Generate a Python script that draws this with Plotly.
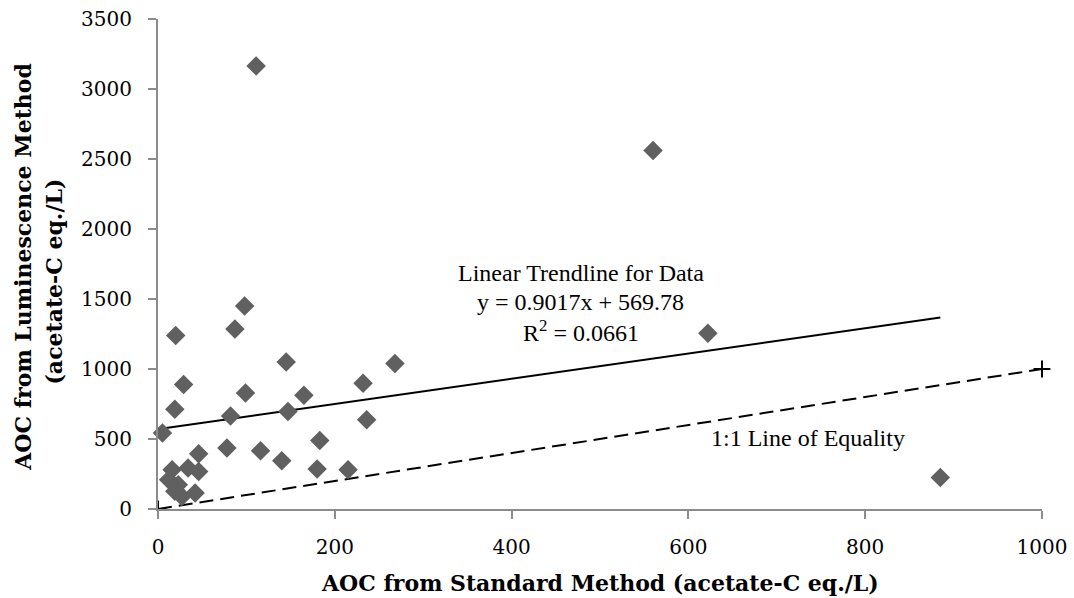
import plotly.graph_objects as go

# Data
standard_aoc = [111, 560, 622, 885, 98, 87, 20, 145, 268, 29, 232, 99, 165, 19, 82, 147,
                236, 5, 183, 78, 116, 46, 140, 180, 215, 16, 34, 46, 12, 23, 19, 42, 27]
luminescence_aoc = [3165, 2560, 1255, 225, 1450, 1285, 1240, 1050, 1040, 890, 898, 828, 812,
                    713, 665, 697, 637, 542, 490, 435, 416, 395, 345, 285, 280, 280, 292,
                    268, 209, 173, 126, 114, 90]

trend_slope = 0.9017
trend_intercept = 569.78
equality_x = [0, 1000]
equality_y = [0, 1000]

x_ticks = [0, 200, 400, 600, 800, 1000]
y_ticks = [0, 500, 1000, 1500, 2000, 2500, 3000, 3500]

FONT = "DejaVu Serif"
ANN_FONT = "Liberation Serif"
AXIS_GREY = "#8c8c8c"

trend_x = [min(standard_aoc), max(standard_aoc)]
trend_y = [trend_slope * v + trend_intercept for v in trend_x]

fig = go.Figure()
fig.add_trace(go.Scatter(
    x=equality_x, y=equality_y, mode="lines+markers",
    line=dict(color="black", width=2, dash="14px,7px"),
    marker=dict(symbol="cross-thin", size=12, line=dict(color="black", width=2)),
    showlegend=False, hoverinfo="skip", cliponaxis=False))
fig.add_trace(go.Scatter(
    x=trend_x, y=trend_y, mode="lines",
    line=dict(color="black", width=2),
    showlegend=False, hoverinfo="skip"))
fig.add_trace(go.Scatter(
    x=standard_aoc, y=luminescence_aoc, mode="markers",
    marker=dict(symbol="diamond", size=15, color="#606060", line=dict(width=0)),
    showlegend=False, cliponaxis=False))

ann_font = dict(family=ANN_FONT, size=24, color="black")
fig.add_annotation(x=478, y=1683, text="Linear Trendline for Data", showarrow=False, font=ann_font)
fig.add_annotation(x=478, y=1480, text="y = 0.9017x + 569.78", showarrow=False, font=ann_font)
fig.add_annotation(x=478, y=1275, text="R<sup>2</sup> = 0.0661", showarrow=False, font=ann_font)
fig.add_annotation(x=735, y=509, text="1:1 Line of Equality", showarrow=False, font=ann_font)

title_font = dict(family=FONT, size=22, color="black")
fig.add_annotation(xref="paper", yref="paper", x=-0.1527, y=0.4945, textangle=-90,
                   xanchor="center", yanchor="middle", showarrow=False,
                   text="<b>AOC from Luminescence Method</b>", font=title_font)
fig.add_annotation(xref="paper", yref="paper", x=-0.1176, y=0.4643, textangle=-90,
                   xanchor="center", yanchor="middle", showarrow=False,
                   text="<b>(acetate-C eq./L)</b>", font=title_font)
fig.add_annotation(xref="paper", yref="paper", x=0.5, y=-0.152,
                   xanchor="center", yanchor="middle", showarrow=False,
                   text="<b>AOC from Standard Method (acetate-C eq./L)</b>", font=title_font)

fig.update_layout(
    width=1074, height=598,
    margin=dict(l=158, r=32, t=19, b=89, autoexpand=False),
    paper_bgcolor="white", plot_bgcolor="white",
    font=dict(family=FONT, size=20, color="black"),
    xaxis=dict(
        range=[0, 1000], tickvals=x_ticks, ticktext=[str(v) for v in x_ticks],
        showgrid=False, zeroline=False, showline=True, linecolor=AXIS_GREY, linewidth=2,
        ticks="outside", ticklen=8, tickcolor=AXIS_GREY, tickwidth=2,
        ticklabelstandoff=11, automargin=False,
    ),
    yaxis=dict(
        range=[0, 3500], tickvals=y_ticks, ticktext=[str(v) for v in y_ticks],
        showgrid=False, zeroline=False, showline=True, linecolor=AXIS_GREY, linewidth=2,
        ticks="outside", ticklen=8, tickcolor=AXIS_GREY, tickwidth=2,
        ticklabelstandoff=12, automargin=False,
    ),
)

fig.write_html("out.html")
